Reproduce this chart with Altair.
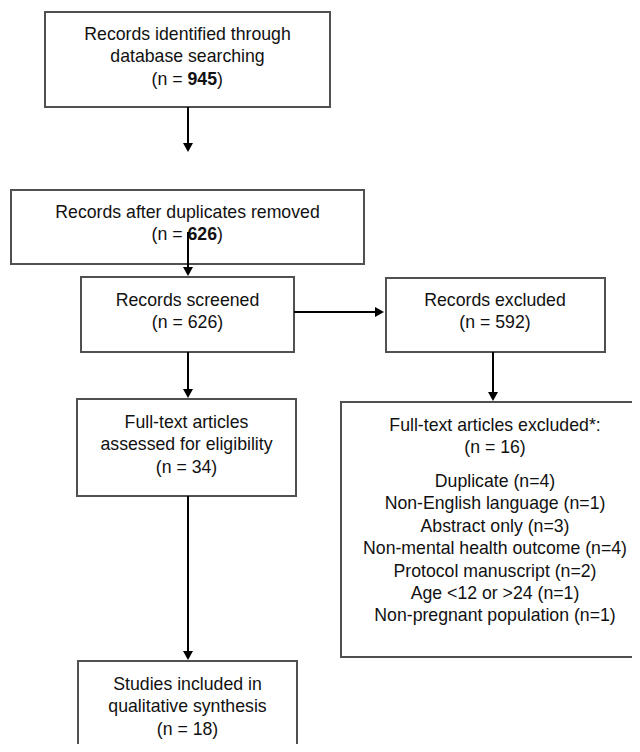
import altair as alt
import pandas as pd

# ---- data (labels and counts) ----
box_titles = [
    ["Records identified through", "database searching"],
    ["Records after duplicates removed"],
    ["Records screened"],
    ["Records excluded"],
    ["Full-text articles", "assessed for eligibility"],
    ["Full-text articles excluded*:"],
    ["Studies included in", "qualitative synthesis"],
]
box_counts = [945, 626, 626, 592, 34, 16, 18]
bold_count = [True, True, False, False, False, False, False]
exclusion_reasons = [
    "Duplicate", "Non-English language", "Abstract only",
    "Non-mental health outcome", "Protocol manuscript",
    "Age <12 or >24", "Non-pregnant population",
]
exclusion_counts = [4, 1, 3, 4, 2, 1, 1]

# ---- layout (page pixels) ----
box_x1 = [45, 11, 81, 386, 77, 341, 78]
box_x2 = [330, 364, 294, 605, 296, 645, 297]
box_y1 = [12, 190, 277, 278, 399, 402, 661]
box_y2 = [107, 264, 352, 352, 496, 657, 752]
text_cx = [187.5, 187.5, 187.5, 495, 186.5, 495, 187.5]
text_y0 = [35, 213, 301, 301, 423, 426, 685]
line_h = 22.4
reasons_y0 = 482

arrows = [  # x1, y1, x2, y2 (tip), direction
    (188, 107, 188, 152, "down"),
    (188, 232, 188, 276, "down"),
    (294, 312, 384, 312, "right"),
    (188, 352, 188, 398, "down"),
    (493, 352, 493, 401, "down"),
    (188, 496, 188, 660, "down"),
]

FONT = "Liberation Sans"
FS = 17.7
W, H = 624, 736
xs = alt.Scale(domain=[8, 8 + W], nice=False, zero=False)
ys = alt.Scale(domain=[8, 8 + H], nice=False, zero=False, reverse=True)

boxes = pd.DataFrame({"x1": box_x1, "x2": box_x2, "y1": box_y1, "y2": box_y2})

SPACE = 0.278 * FS
plain_rows, pre_rows, bold_rows, post_rows = [], [], [], []
for i, lines in enumerate(box_titles):
    y = text_y0[i]
    for ln in lines:
        plain_rows.append({"x": text_cx[i], "y": y, "t": ln})
        y += line_h
    if bold_count[i]:
        xb = text_cx[i]
        pre_rows.append({"x": xb - SPACE, "y": y, "t": "(n ="})
        bold_rows.append({"x": xb, "y": y, "t": str(box_counts[i])})
        post_rows.append({"x": xb + 0.556 * FS * len(str(box_counts[i])), "y": y, "t": ")"})
    else:
        plain_rows.append({"x": text_cx[i], "y": y, "t": f"(n = {box_counts[i]})"})
for k, (r, c) in enumerate(zip(exclusion_reasons, exclusion_counts)):
    plain_rows.append({"x": text_cx[5], "y": reasons_y0 + k * line_h, "t": f"{r} (n={c})"})

shafts, heads_down, heads_right = [], [], []
HL = 9
for x1, y1, x2, y2, d in arrows:
    if d == "down":
        shafts.append({"x1": x1, "y1": y1, "x2": x2, "y2": y2 - HL + 1})
        heads_down.append({"x": x2, "y": y2 - HL / 2})
    else:
        shafts.append({"x1": x1, "y1": y1, "x2": x2 - HL + 1, "y2": y2})
        heads_right.append({"x": x2 - HL / 2, "y": y2})

rects = alt.Chart(boxes).mark_rect(fill="white", stroke="#505050", strokeWidth=2).encode(
    x=alt.X("x1:Q", scale=xs, axis=None), x2="x2:Q",
    y=alt.Y("y1:Q", scale=ys, axis=None), y2="y2:Q",
)

def text_layer(rows, align, weight="normal"):
    return alt.Chart(pd.DataFrame(rows)).mark_text(
        align=align, baseline="middle", font=FONT, fontSize=FS,
        fontWeight=weight, color="#111111",
    ).encode(
        x=alt.X("x:Q", scale=xs, axis=None),
        y=alt.Y("y:Q", scale=ys, axis=None),
        text="t:N",
    )

texts = text_layer(plain_rows, "center")
pre = text_layer(pre_rows, "right")
bold = text_layer(bold_rows, "left", "bold")
post = text_layer(post_rows, "left")

rules = alt.Chart(pd.DataFrame(shafts)).mark_rule(color="#000000", strokeWidth=2).encode(
    x=alt.X("x1:Q", scale=xs, axis=None), x2="x2:Q",
    y=alt.Y("y1:Q", scale=ys, axis=None), y2="y2:Q",
)

down = alt.Chart(pd.DataFrame(heads_down)).mark_point(
    shape="M-1,-0.9L1,-0.9L0,0.9Z", size=100, filled=True, color="#000000", opacity=1, strokeWidth=0
).encode(x=alt.X("x:Q", scale=xs, axis=None), y=alt.Y("y:Q", scale=ys, axis=None))

right = alt.Chart(pd.DataFrame(heads_right)).mark_point(
    shape="M-0.9,-1L0.9,0L-0.9,1Z", size=100, filled=True, color="#000000", opacity=1, strokeWidth=0
).encode(x=alt.X("x:Q", scale=xs, axis=None), y=alt.Y("y:Q", scale=ys, axis=None))

chart = alt.layer(rects, texts, pre, bold, post, rules, down, right).properties(
    width=W, height=H, padding=0, autosize=alt.AutoSizeParams(type="none"),
    background="white",
).configure_view(strokeWidth=0)

chart.save("out.html", embed_options={"renderer": "svg", "actions": False})
